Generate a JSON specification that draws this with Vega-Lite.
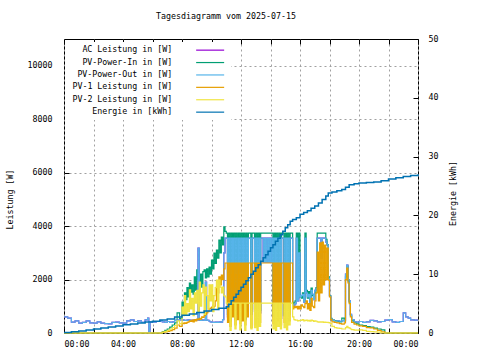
{
 "$schema": "https://vega.github.io/schema/vega-lite/v6.json",
 "width": 354,
 "height": 294,
 "autosize": {"type": "none"},
 "padding": {"left": 64, "top": 39, "right": 62, "bottom": 27},
 "background": "white",
 "title": {"text": "Tagesdiagramm vom 2025-07-15", "font": "DejaVu Sans Mono", "fontSize": 8.3, "fontWeight": "normal", "color": "black", "dx": -15, "offset": 14},
 "config": {
  "view": {"stroke": "black", "strokeWidth": 1},
  "axis": {"labelFont": "DejaVu Sans Mono", "labelFontSize": 8.3, "labelColor": "black", "titleFont": "DejaVu Sans Mono", "titleFontSize": 8.3, "titleFontWeight": "normal", "titleColor": "black", "domain": false, "tickColor": "black", "tickSize": -5, "gridColor": "#a0a0a0", "gridDash": [2, 3], "gridOpacity": 1, "gridWidth": 1},
  "line": {"strokeWidth": 1.2, "interpolate": "step-after"}
 },
 "datasets": {
  "p": [
   {"m":0,"a":600,"g":0,"b":600,"o":0,"y":0},
   {"m":15,"a":560,"g":0,"b":560,"o":0,"y":0},
   {"m":30,"a":410,"g":0,"b":410,"o":0,"y":0},
   {"m":45,"a":450,"g":0,"b":450,"o":0,"y":0},
   {"m":60,"a":370,"g":0,"b":370,"o":0,"y":0},
   {"m":75,"a":400,"g":0,"b":400,"o":0,"y":0},
   {"m":90,"a":450,"g":0,"b":450,"o":0,"y":0},
   {"m":105,"a":380,"g":0,"b":380,"o":0,"y":0},
   {"m":120,"a":370,"g":0,"b":370,"o":0,"y":0},
   {"m":135,"a":420,"g":0,"b":420,"o":0,"y":0},
   {"m":150,"a":370,"g":0,"b":370,"o":0,"y":0},
   {"m":165,"a":350,"g":0,"b":350,"o":0,"y":0},
   {"m":180,"a":340,"g":0,"b":340,"o":0,"y":0},
   {"m":195,"a":400,"g":0,"b":400,"o":0,"y":0},
   {"m":210,"a":410,"g":0,"b":410,"o":0,"y":0},
   {"m":225,"a":380,"g":0,"b":380,"o":0,"y":0},
   {"m":240,"a":370,"g":0,"b":370,"o":0,"y":0},
   {"m":255,"a":450,"g":0,"b":450,"o":0,"y":0},
   {"m":270,"a":490,"g":0,"b":490,"o":0,"y":0},
   {"m":285,"a":430,"g":0,"b":430,"o":0,"y":0},
   {"m":300,"a":450,"g":0,"b":450,"o":0,"y":0},
   {"m":315,"a":400,"g":0,"b":400,"o":0,"y":0},
   {"m":330,"a":490,"g":0,"b":490,"o":0,"y":0},
   {"m":340,"a":560,"g":0,"b":560,"o":0,"y":0},
   {"m":345,"a":0,"g":0,"b":0,"o":0,"y":0},
   {"m":350,"a":420,"g":0,"b":420,"o":0,"y":0},
   {"m":360,"a":410,"g":0,"b":410,"o":0,"y":0},
   {"m":375,"a":430,"g":0,"b":430,"o":0,"y":0},
   {"m":390,"a":450,"g":0,"b":450,"o":0,"y":0},
   {"m":400,"a":420,"g":50,"b":420,"o":20,"y":30},
   {"m":410,"a":400,"g":100,"b":400,"o":40,"y":60},
   {"m":420,"a":430,"g":150,"b":430,"o":60,"y":100},
   {"m":430,"a":400,"g":220,"b":400,"o":90,"y":150},
   {"m":440,"a":420,"g":300,"b":420,"o":130,"y":200},
   {"m":450,"a":470,"g":380,"b":470,"o":180,"y":280},
   {"m":460,"a":480,"g":750,"b":480,"o":300,"y":450},
   {"m":470,"a":490,"g":550,"b":490,"o":250,"y":350},
   {"m":480,"a":490,"g":1160,"b":490,"o":370,"y":970},
   {"m":485,"a":480,"g":1000,"b":480,"o":350,"y":650},
   {"m":490,"a":470,"g":1500,"b":470,"o":380,"y":1400},
   {"m":495,"a":470,"g":1250,"b":470,"o":360,"y":700},
   {"m":500,"a":480,"g":1700,"b":480,"o":400,"y":1100},
   {"m":505,"a":490,"g":1350,"b":490,"o":420,"y":800},
   {"m":510,"a":480,"g":1870,"b":480,"o":450,"y":1610},
   {"m":515,"a":470,"g":1530,"b":470,"o":430,"y":900},
   {"m":520,"a":460,"g":1800,"b":460,"o":480,"y":1300},
   {"m":525,"a":480,"g":1450,"b":480,"o":420,"y":650},
   {"m":530,"a":470,"g":2100,"b":470,"o":500,"y":1500},
   {"m":535,"a":480,"g":1600,"b":480,"o":450,"y":1120},
   {"m":540,"a":490,"g":2360,"b":490,"o":520,"y":1600},
   {"m":545,"a":3180,"g":2000,"b":3180,"o":500,"y":800},
   {"m":550,"a":480,"g":1900,"b":480,"o":550,"y":1900},
   {"m":555,"a":470,"g":2200,"b":470,"o":520,"y":1000},
   {"m":560,"a":490,"g":1720,"b":490,"o":600,"y":1500},
   {"m":565,"a":480,"g":2300,"b":480,"o":580,"y":1800},
   {"m":570,"a":470,"g":2360,"b":470,"o":650,"y":700},
   {"m":575,"a":1900,"g":2060,"b":1900,"o":700,"y":1720},
   {"m":580,"a":480,"g":2400,"b":480,"o":750,"y":1400},
   {"m":585,"a":470,"g":2100,"b":470,"o":800,"y":900},
   {"m":590,"a":440,"g":2470,"b":440,"o":900,"y":1800},
   {"m":595,"a":420,"g":2200,"b":420,"o":930,"y":1200},
   {"m":600,"a":410,"g":2730,"b":410,"o":970,"y":1800},
   {"m":605,"a":400,"g":2400,"b":400,"o":950,"y":800},
   {"m":610,"a":400,"g":2990,"b":400,"o":1000,"y":1400},
   {"m":615,"a":410,"g":2600,"b":410,"o":1200,"y":1700},
   {"m":620,"a":400,"g":3100,"b":400,"o":1720,"y":1980},
   {"m":625,"a":410,"g":2800,"b":410,"o":1500,"y":900},
   {"m":630,"a":400,"g":3480,"b":400,"o":2100,"y":1980},
   {"m":635,"a":420,"g":3000,"b":420,"o":1800,"y":1720},
   {"m":640,"a":410,"g":3590,"b":410,"o":2170,"y":1500},
   {"m":645,"a":500,"g":3300,"b":500,"o":2000,"y":1720},
   {"m":650,"a":3000,"g":3970,"b":3000,"o":2400,"y":1400},
   {"m":655,"a":3550,"g":3800,"b":3550,"o":2620,"y":1350},
   {"m":660,"a":3550,"g":3740,"b":3550,"o":2620,"y":1120},
   {"m":665,"a":600,"g":700,"b":600,"o":400,"y":1120},
   {"m":670,"a":3550,"g":3740,"b":3550,"o":2620,"y":1120},
   {"m":675,"a":450,"g":500,"b":450,"o":250,"y":100},
   {"m":680,"a":3550,"g":3740,"b":3550,"o":2620,"y":1120},
   {"m":685,"a":800,"g":900,"b":800,"o":600,"y":1120},
   {"m":690,"a":3550,"g":3740,"b":3550,"o":2620,"y":1120},
   {"m":695,"a":500,"g":600,"b":500,"o":300,"y":150},
   {"m":700,"a":3550,"g":3740,"b":3550,"o":2620,"y":1120},
   {"m":705,"a":700,"g":800,"b":700,"o":500,"y":1120},
   {"m":710,"a":3550,"g":3740,"b":3550,"o":2620,"y":1120},
   {"m":715,"a":550,"g":650,"b":550,"o":350,"y":120},
   {"m":720,"a":3550,"g":3740,"b":3550,"o":2620,"y":1120},
   {"m":725,"a":600,"g":700,"b":600,"o":450,"y":1120},
   {"m":730,"a":3550,"g":3740,"b":3550,"o":2620,"y":1120},
   {"m":735,"a":500,"g":550,"b":500,"o":300,"y":100},
   {"m":740,"a":3650,"g":3740,"b":3550,"o":2620,"y":1120},
   {"m":745,"a":800,"g":900,"b":800,"o":600,"y":1120},
   {"m":750,"a":3550,"g":3740,"b":3550,"o":2620,"y":1120},
   {"m":760,"a":700,"g":800,"b":700,"o":200,"y":150},
   {"m":765,"a":3550,"g":3740,"b":3550,"o":2620,"y":1120},
   {"m":775,"a":800,"g":900,"b":800,"o":300,"y":200},
   {"m":780,"a":3550,"g":3740,"b":3550,"o":2620,"y":1120},
   {"m":785,"a":600,"g":700,"b":600,"o":250,"y":100},
   {"m":790,"a":3550,"g":3740,"b":3550,"o":2620,"y":1120},
   {"m":795,"a":750,"g":850,"b":750,"o":400,"y":250},
   {"m":800,"a":3550,"g":3740,"b":3550,"o":2620,"y":1120},
   {"m":810,"a":2650,"g":3740,"b":2650,"o":2620,"y":1120},
   {"m":815,"a":3550,"g":3740,"b":3550,"o":2620,"y":1120},
   {"m":820,"a":2650,"g":3740,"b":2650,"o":2620,"y":1120},
   {"m":825,"a":3550,"g":3740,"b":3550,"o":2620,"y":1120},
   {"m":830,"a":2650,"g":3740,"b":2650,"o":2620,"y":1120},
   {"m":835,"a":3550,"g":3740,"b":3550,"o":2620,"y":1120},
   {"m":840,"a":2650,"g":3740,"b":2650,"o":2620,"y":1120},
   {"m":845,"a":3550,"g":3740,"b":3550,"o":2620,"y":1120},
   {"m":850,"a":600,"g":700,"b":600,"o":350,"y":150},
   {"m":855,"a":3650,"g":3740,"b":3550,"o":2620,"y":1120},
   {"m":860,"a":500,"g":600,"b":500,"o":300,"y":100},
   {"m":865,"a":3550,"g":3740,"b":3550,"o":2620,"y":1120},
   {"m":870,"a":700,"g":800,"b":700,"o":450,"y":250},
   {"m":875,"a":3550,"g":3740,"b":3550,"o":2620,"y":1120},
   {"m":880,"a":550,"g":650,"b":550,"o":300,"y":150},
   {"m":885,"a":3550,"g":3740,"b":3550,"o":2620,"y":1120},
   {"m":895,"a":650,"g":700,"b":650,"o":400,"y":200},
   {"m":900,"a":3550,"g":3740,"b":3550,"o":2620,"y":1120},
   {"m":905,"a":500,"g":600,"b":500,"o":300,"y":120},
   {"m":910,"a":3550,"g":3740,"b":3550,"o":2620,"y":1120},
   {"m":915,"a":700,"g":800,"b":700,"o":450,"y":300},
   {"m":920,"a":3550,"g":3740,"b":3550,"o":2620,"y":1120},
   {"m":930,"a":1000,"g":1100,"b":1000,"o":900,"y":600},
   {"m":935,"a":1050,"g":1150,"b":1050,"o":1000,"y":500},
   {"m":940,"a":1100,"g":1200,"b":1100,"o":950,"y":480},
   {"m":945,"a":3550,"g":3740,"b":3550,"o":1000,"y":480},
   {"m":950,"a":1200,"g":1300,"b":1200,"o":900,"y":450},
   {"m":955,"a":3000,"g":3740,"b":3000,"o":1000,"y":460},
   {"m":960,"a":1350,"g":1400,"b":1350,"o":900,"y":470},
   {"m":965,"a":1400,"g":1300,"b":1400,"o":1050,"y":480},
   {"m":970,"a":1450,"g":1500,"b":1450,"o":1000,"y":500},
   {"m":975,"a":1150,"g":1200,"b":1150,"o":950,"y":450},
   {"m":980,"a":3550,"g":3740,"b":3550,"o":1100,"y":470},
   {"m":985,"a":1500,"g":1600,"b":1500,"o":1200,"y":480},
   {"m":990,"a":1350,"g":1300,"b":1350,"o":900,"y":450},
   {"m":995,"a":1450,"g":1550,"b":1450,"o":1100,"y":470},
   {"m":1000,"a":1100,"g":1200,"b":1100,"o":850,"y":440},
   {"m":1005,"a":1600,"g":1680,"b":1600,"o":1300,"y":480},
   {"m":1010,"a":1450,"g":1400,"b":1450,"o":1000,"y":460},
   {"m":1015,"a":1250,"g":1300,"b":1250,"o":950,"y":430},
   {"m":1020,"a":1600,"g":1500,"b":1600,"o":1200,"y":450},
   {"m":1025,"a":1650,"g":1700,"b":1650,"o":1500,"y":440},
   {"m":1030,"a":3550,"g":3740,"b":3550,"o":3030,"y":420},
   {"m":1035,"a":3550,"g":3740,"b":3550,"o":1200,"y":410},
   {"m":1040,"a":3550,"g":3740,"b":3550,"o":3370,"y":420},
   {"m":1045,"a":2800,"g":3740,"b":2800,"o":1500,"y":410},
   {"m":1050,"a":3550,"g":3740,"b":3550,"o":3400,"y":420},
   {"m":1055,"a":3550,"g":3740,"b":3550,"o":1800,"y":400},
   {"m":1060,"a":3550,"g":3740,"b":3550,"o":3290,"y":410},
   {"m":1065,"a":3400,"g":3500,"b":3400,"o":2000,"y":400},
   {"m":1070,"a":3300,"g":3300,"b":3300,"o":3180,"y":400},
   {"m":1075,"a":2050,"g":2100,"b":2050,"o":1980,"y":390},
   {"m":1080,"a":1380,"g":1400,"b":1380,"o":1350,"y":380},
   {"m":1085,"a":520,"g":550,"b":520,"o":500,"y":350},
   {"m":1090,"a":470,"g":480,"b":470,"o":420,"y":250},
   {"m":1100,"a":430,"g":450,"b":430,"o":400,"y":200},
   {"m":1110,"a":450,"g":430,"b":450,"o":380,"y":180},
   {"m":1120,"a":440,"g":420,"b":440,"o":350,"y":170},
   {"m":1130,"a":460,"g":560,"b":460,"o":330,"y":150},
   {"m":1140,"a":480,"g":450,"b":480,"o":380,"y":150},
   {"m":1145,"a":2200,"g":2100,"b":2200,"o":2000,"y":200},
   {"m":1150,"a":2540,"g":2500,"b":2540,"o":2430,"y":250},
   {"m":1155,"a":2000,"g":1950,"b":2000,"o":1870,"y":200},
   {"m":1160,"a":1200,"g":1150,"b":1200,"o":1100,"y":180},
   {"m":1165,"a":700,"g":650,"b":700,"o":600,"y":150},
   {"m":1170,"a":500,"g":450,"b":500,"o":400,"y":130},
   {"m":1180,"a":420,"g":380,"b":420,"o":330,"y":110},
   {"m":1190,"a":410,"g":340,"b":410,"o":300,"y":110},
   {"m":1200,"a":430,"g":300,"b":430,"o":270,"y":120},
   {"m":1215,"a":400,"g":280,"b":400,"o":250,"y":100},
   {"m":1230,"a":420,"g":240,"b":420,"o":200,"y":60},
   {"m":1245,"a":470,"g":220,"b":470,"o":190,"y":50},
   {"m":1260,"a":450,"g":180,"b":450,"o":150,"y":40},
   {"m":1275,"a":420,"g":150,"b":420,"o":100,"y":30},
   {"m":1290,"a":430,"g":120,"b":430,"o":40,"y":0},
   {"m":1305,"a":480,"g":0,"b":480,"o":0,"y":0},
   {"m":1320,"a":500,"g":0,"b":500,"o":0,"y":0},
   {"m":1335,"a":420,"g":0,"b":420,"o":0,"y":0},
   {"m":1350,"a":400,"g":0,"b":400,"o":0,"y":0},
   {"m":1365,"a":430,"g":0,"b":430,"o":0,"y":0},
   {"m":1380,"a":750,"g":0,"b":750,"o":0,"y":0},
   {"m":1390,"a":600,"g":0,"b":600,"o":0,"y":0},
   {"m":1400,"a":560,"g":0,"b":560,"o":0,"y":0},
   {"m":1410,"a":490,"g":0,"b":490,"o":0,"y":0},
   {"m":1425,"a":480,"g":0,"b":480,"o":0,"y":0},
   {"m":1440,"a":480,"g":0,"b":480,"o":0,"y":0}
  ],
  "e": [
   {"m":0,"e":0.1},{"m":30,"e":0.2},{"m":60,"e":0.35},{"m":90,"e":0.5},{"m":120,"e":0.7},
   {"m":150,"e":0.85},{"m":180,"e":1.0},{"m":210,"e":1.2},{"m":240,"e":1.4},{"m":270,"e":1.55},
   {"m":300,"e":1.7},{"m":330,"e":1.85},{"m":360,"e":2.0},{"m":390,"e":2.2},{"m":420,"e":2.4},
   {"m":450,"e":2.7},{"m":480,"e":3.0},{"m":510,"e":3.25},{"m":540,"e":3.5},{"m":570,"e":3.75},
   {"m":600,"e":4.0},{"m":630,"e":4.2},{"m":660,"e":4.45},{"m":670,"e":4.9},{"m":680,"e":5.5},
   {"m":690,"e":6.1},{"m":700,"e":6.6},{"m":710,"e":7.2},{"m":720,"e":7.8},{"m":730,"e":8.3},
   {"m":740,"e":8.9},{"m":750,"e":9.4},{"m":760,"e":10.0},{"m":770,"e":10.5},{"m":780,"e":11.1},
   {"m":790,"e":11.6},{"m":800,"e":12.2},{"m":810,"e":12.8},{"m":820,"e":13.3},{"m":830,"e":13.9},
   {"m":840,"e":14.5},{"m":850,"e":15.0},{"m":860,"e":15.6},{"m":870,"e":16.1},{"m":880,"e":16.7},
   {"m":890,"e":17.3},{"m":900,"e":17.9},{"m":910,"e":18.4},{"m":920,"e":19.0},{"m":930,"e":19.3},
   {"m":945,"e":19.6},{"m":960,"e":20.2},{"m":975,"e":20.5},{"m":990,"e":20.8},{"m":1005,"e":21.2},
   {"m":1020,"e":21.6},{"m":1035,"e":22.1},{"m":1050,"e":22.7},{"m":1065,"e":23.3},{"m":1075,"e":23.8},
   {"m":1090,"e":24.0},{"m":1110,"e":24.2},{"m":1130,"e":24.4},{"m":1145,"e":24.8},{"m":1160,"e":25.2},
   {"m":1180,"e":25.4},{"m":1200,"e":25.5},{"m":1230,"e":25.6},{"m":1260,"e":25.7},{"m":1290,"e":25.9},
   {"m":1320,"e":26.2},{"m":1350,"e":26.4},{"m":1380,"e":26.6},{"m":1410,"e":26.8},{"m":1440,"e":27.0}
  ]
 },
 "layer": [
  {
   "data": {"name": "p"},
   "encoding": {
    "x": {"field": "m", "type": "quantitative", "scale": {"domain": [0, 1440], "nice": false},
     "axis": {"values": [0,120,240,360,480,600,720,840,960,1080,1200,1320,1440], "labelExpr": "timeFormat(datetime(2025,6,15,0,datum.value),'%H:%M')", "title": null, "grid": true, "labelPadding": 11}}
   },
   "layer": [
    {"mark": "line", "encoding": {
     "y": {"field": "a", "type": "quantitative", "scale": {"domain": [0, 11000], "nice": false},
      "axis": {"values": [0,2000,4000,6000,8000,10000], "format": "d", "title": "Leistung [W]", "grid": true, "labelPadding": 17, "titleX": -54, "titleY": 160, "titleBaseline": "middle"}},
     "color": {"datum": "AC Leistung in [W]", "title": null,
      "scale": {"domain": ["AC Leistung in [W]", "PV-Power-In in [W]", "PV-Power-Out in [W]", "PV-1 Leistung in [W]", "PV-2 Leistung in [W]", "Energie in [kWh]"],
       "range": ["#9400d3", "#009e73", "#56b4e9", "#e69f00", "#f0e442", "#0072b2"]},
      "legend": {"orient": "none", "legendX": 1, "legendY": 3, "fillColor": "white", "padding": 4, "symbolType": "M-7,0H7", "symbolSize": 16, "symbolStrokeWidth": 1.5, "labelAlign": "right", "labelOffset": -42, "symbolOffset": 137, "labelFont": "DejaVu Sans Mono", "labelFontSize": 8.3, "labelColor": "black", "labelLimit": 0, "rowPadding": 3.4}}}},
    {"mark": "line", "encoding": {"y": {"field": "g", "type": "quantitative", "axis": {"title": "Leistung [W]"}}, "color": {"datum": "PV-Power-In in [W]"}}},
    {"mark": "line", "encoding": {"y": {"field": "b", "type": "quantitative", "axis": {"title": "Leistung [W]"}}, "color": {"datum": "PV-Power-Out in [W]"}}},
    {"mark": "line", "encoding": {"y": {"field": "o", "type": "quantitative", "axis": {"title": "Leistung [W]"}}, "color": {"datum": "PV-1 Leistung in [W]"}}},
    {"mark": "line", "encoding": {"y": {"field": "y", "type": "quantitative", "axis": {"title": "Leistung [W]"}}, "color": {"datum": "PV-2 Leistung in [W]"}}}
   ]
  },
  {
   "data": {"name": "e"},
   "mark": {"type": "line", "strokeWidth": 1.5},
   "encoding": {
    "x": {"field": "m", "type": "quantitative", "scale": {"domain": [0, 1440], "nice": false},
     "axis": {"orient": "top", "values": [0,120,240,360,480,600,720,840,960,1080,1200,1320,1440], "labels": false, "title": null, "grid": false}},
    "y": {"field": "e", "type": "quantitative", "scale": {"domain": [0, 50], "nice": false},
     "axis": {"orient": "right", "values": [0,10,20,30,40,50], "title": "Energie [kWh]", "grid": false, "labelPadding": 15, "titleAngle": 270, "titleX": 35, "titleY": 154, "titleBaseline": "middle"}},
    "color": {"datum": "Energie in [kWh]"}
   }
  }
 ],
 "resolve": {"scale": {"y": "independent"}, "axis": {"x": "independent"}}
}
